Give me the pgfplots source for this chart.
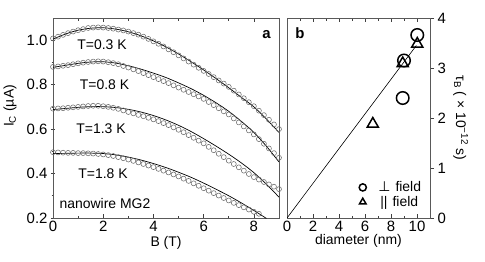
\documentclass[border=0pt]{standalone}
\usepackage{fontspec}
\setmainfont{Liberation Sans}
\newfontfamily\dejavu{DejaVu Sans}
\usepackage{pgfplots}
\usepackage{pgfplotstable}
\pgfplotsset{compat=1.18}

\pgfplotstableread{
B     a      b      c      d
0.0   1.008  0.880  0.692  0.496
0.2   1.016  0.882  0.693  0.495
0.4   1.024  0.885  0.694  0.494
0.6   1.032  0.888  0.696  0.493
0.8   1.039  0.892  0.698  0.493
1.0   1.045  0.896  0.700  0.492
1.2   1.050  0.899  0.702  0.492
1.4   1.055  0.902  0.704  0.491
1.6   1.057  0.904  0.705  0.490
1.8   1.058  0.905  0.705  0.488
2.0   1.057  0.904  0.703  0.486
2.2   1.055  0.901  0.700  0.483
2.4   1.052  0.897  0.696  0.479
2.6   1.048  0.892  0.691  0.474
2.8   1.044  0.884  0.684  0.469
3.0   1.039  0.877  0.677  0.463
3.2   1.032  0.869  0.671  0.457
3.4   1.025  0.861  0.664  0.450
3.6   1.016  0.852  0.658  0.443
3.8   1.006  0.843  0.651  0.436
4.0   0.995  0.834  0.644  0.429
4.2   0.984  0.825  0.636  0.421
4.4   0.972  0.816  0.627  0.413
4.6   0.959  0.807  0.618  0.405
4.8   0.946  0.797  0.608  0.396
5.0   0.932  0.787  0.597  0.387
5.2   0.918  0.777  0.586  0.377
5.4   0.904  0.767  0.573  0.367
5.6   0.890  0.757  0.561  0.356
5.8   0.876  0.747  0.548  0.345
6.0   0.862  0.736  0.536  0.334
6.2   0.848  0.722  0.520  0.323
6.4   0.834  0.708  0.505  0.312
6.6   0.819  0.694  0.489  0.301
6.8   0.805  0.680  0.474  0.290
7.0   0.790  0.666  0.458  0.279
7.2   0.773  0.648  0.443  0.268
7.4   0.756  0.630  0.428  0.258
7.6   0.739  0.612  0.413  0.248
7.8   0.721  0.594  0.398  0.238
8.0   0.703  0.576  0.384  0.228
8.2   0.683  0.555  0.373  0.219
8.4   0.663  0.534  0.362  nan
8.6   0.642  0.513  0.351  nan
8.8   0.621  0.492  0.341  nan
9.0   0.600  0.471  0.330  nan
}\datapts

\pgfplotstableread{
B     a      b      c      d
0.0   1.005  0.878  0.688  0.490
0.5   1.028  0.887  0.693  0.491
1.0   1.045  0.896  0.698  0.492
1.5   1.054  0.902  0.701  0.492
2.0   1.056  0.903  0.701  0.490
2.5   1.050  0.897  0.697  0.484
3.0   1.038  0.885  0.689  0.474
3.5   1.020  0.870  0.677  0.461
4.0   0.997  0.852  0.661  0.445
4.5   0.970  0.832  0.641  0.427
5.0   0.938  0.808  0.617  0.406
5.5   0.903  0.782  0.589  0.383
6.0   0.866  0.752  0.557  0.357
6.5   0.827  0.718  0.523  0.329
7.0   0.786  0.680  0.487  0.300
7.5   0.743  0.635  0.448  0.268
8.0   0.700  0.585  0.404  0.234
8.5   0.645  0.523  0.352  0.198
9.0   0.585  0.452  0.294  nan
}\fitpts

\newcommand\fs{\fontsize{14}{16}\selectfont}
\newcommand\ft{\fontsize{15}{17}\selectfont}

\begin{document}
\begin{tikzpicture}
\pgfplotsset{
  every axis/.append style={
    scale only axis, height=200bp,
    font=\fs,
    tick label style={font=\ft},
    /pgf/number format/assume math mode=true,
    axis line style={black!65, line width=0.8pt},
    major tick length=4bp, minor tick length=2.5bp,
    every tick/.style={black!75, line width=0.6pt},
  },
}
\begin{axis}[
  at={(0,0)}, anchor=south west,
  width=226bp,
  xmin=0, xmax=9, ymin=0.2, ymax=1.1,
  xtick={0,2,4,6,8}, minor xtick={1,3,5,7},
  ytick={0.2,0.4,0.6,0.8,1.0}, minor ytick={0.3,0.5,0.7,0.9},
  xtick pos=both, ytick pos=left,
  xtick align=inside, ytick align=center,
  yticklabel style={/pgf/number format/.cd, fixed, fixed zerofill, precision=1},
  xlabel={B (T)},
  ylabel={I\textsubscript{C} (µA)},
  every axis x label/.append style={at={(axis description cs:0.5,-0.125)}, anchor=center},
  every axis y label/.append style={at={(axis description cs:-0.19,0.56)}, anchor=center},
]
\foreach \c in {a,b,c,d}{
  \addplot[only marks, mark=o, mark size=2.5pt, black!58, mark options={line width=0.55pt}] table[x=B, y=\c] {\datapts};
  \addplot[black, line width=0.7pt, smooth] table[x=B, y=\c] {\fitpts};
}
\node at (axis cs:1.95,0.982) {T=0.3 K};
\node at (axis cs:2.05,0.802) {T=0.8 K};
\node at (axis cs:1.91,0.600) {T=1.3 K};
\node at (axis cs:1.99,0.398) {T=1.8 K};
\node at (axis cs:2.07,0.263) {nanowire MG2};
\node[font=\ft\bfseries] at (axis cs:8.5,1.027) {a};
\end{axis}

\begin{axis}[
  at={(234bp,0)}, anchor=south west,
  width=143bp,
  xmin=0, xmax=11, ymin=0, ymax=4,
  xtick={0,2,4,6,8,10}, minor xtick={1,3,5,7,9},
  ytick={0,1,2,3,4},
  xtick pos=both, ytick pos=right, yticklabel pos=right,
  xtick align=inside, ytick align=outside,
  xlabel={diameter (nm)},
  ylabel={τ\textsubscript{B} ( × 10\textsuperscript{−12} s)},
  every axis x label/.append style={at={(axis description cs:0.5,-0.115)}, anchor=center},
  every axis y label/.append style={at={(axis description cs:1.215,0.5)}, anchor=center, rotate=180},
  legend style={at={(0.96,0.035)}, anchor=south east, draw=none, fill=none,
    font=\fs, row sep=-1bp, inner sep=1bp},
  legend cell align=left,
]
\addplot[black, line width=0.6pt, forget plot] coordinates {(0,0) (9.95,3.45)};
\addplot[only marks, mark=o, mark size=6.3pt, black, line width=1.5pt, forget plot]
  coordinates {(9.0,3.15) (10.02,3.66) (8.9,2.40)};
\addplot[only marks, mark=triangle, mark size=6.5pt, black, line width=1.5pt, forget plot]
  coordinates {(8.9,3.09) (10.02,3.48) (6.6,1.88)};
\addlegendimage{only marks, mark=o, mark size=3.6pt, black, line width=1.5pt}
\addlegendentry{\hspace{10bp}{\dejavu ⊥}\hspace{5bp}field}
\addlegendimage{only marks, mark=triangle, mark size=3.8pt, black, line width=1.5pt}
\addlegendentry{\hspace{12bp}||\hspace{5bp}field}
\node[font=\ft\bfseries] at (axis cs:1.0,3.70) {b};
\end{axis}
\pgfresetboundingbox
\path (-53bp,-44bp) rectangle (432bp,218bp);
\end{tikzpicture}
\end{document}
